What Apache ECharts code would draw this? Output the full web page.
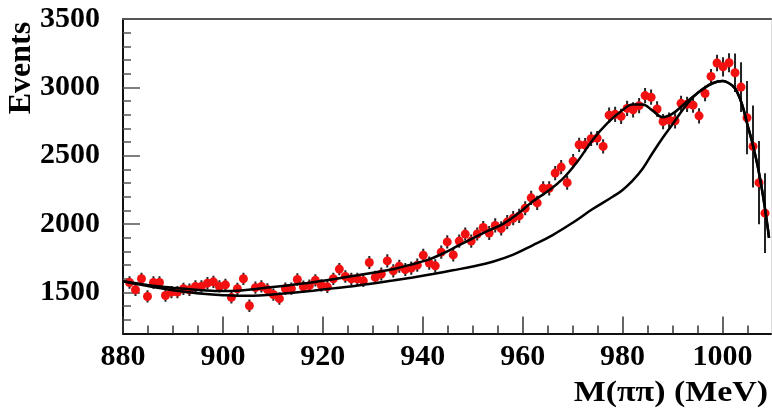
<!DOCTYPE html>
<html>
<head>
<meta charset="utf-8">
<script src="https://cdn.jsdelivr.net/npm/echarts@6/dist/echarts.min.js"></script>
<style>
html,body{margin:0;padding:0;background:#fff;}
#chart{width:772px;height:410px;}
</style>
</head>
<body>
<div id="chart"></div>
<script>
// ---- data ----
const mass = [881.3, 882.5, 883.7, 884.9, 886.1, 887.3, 888.5, 889.7, 890.9, 892.1,
  893.3, 894.5, 895.7, 896.9, 898.1, 899.3, 900.5, 901.7, 902.9, 904.1,
  905.3, 906.5, 907.7, 908.9, 910.1, 911.3, 912.5, 913.7, 914.9, 916.1,
  917.3, 918.5, 919.7, 920.9, 922.1, 923.3, 924.5, 925.7, 926.9, 928.1,
  929.3, 930.5, 931.7, 932.9, 934.1, 935.3, 936.5, 937.7, 938.9, 940.1,
  941.3, 942.5, 943.7, 944.9, 946.1, 947.3, 948.5, 949.7, 950.9, 952.1,
  953.3, 954.5, 955.7, 956.9, 958.1, 959.3, 960.5, 961.7, 962.9, 964.1,
  965.3, 966.5, 967.7, 968.9, 970.1, 971.3, 972.5, 973.7, 974.9, 976.1,
  977.3, 978.5, 979.7, 980.9, 982.1, 983.3, 984.5, 985.7, 986.9, 988.1,
  989.3, 990.5, 991.7, 992.9, 994.1, 995.3, 996.5, 997.7, 998.9, 1000.1,
  1001.3, 1002.5, 1003.7, 1004.9, 1006.1, 1007.3, 1008.5];
const events = [1573,1520,1600,1471,1573,1573,1478,1503,1503,1527,
  1520,1544,1544,1568,1578,1544,1556,1464,1527,1600,
  1403,1535,1544,1522,1485,1455,1528,1528,1595,1542,
  1550,1589,1552,1541,1600,1671,1617,1599,1599,1585,
  1719,1610,1635,1731,1658,1692,1668,1678,1700,1772,
  1715,1695,1795,1870,1775,1876,1927,1876,1928,1975,
  1935,1990,1968,2015,2043,2060,2116,2192,2155,2262,
  2262,2373,2417,2303,2460,2580,2578,2624,2629,2568,
  2797,2803,2788,2846,2836,2866,2940,2928,2842,2750,
  2761,2755,2883,2876,2870,2792,2955,3080,3178,3150,
  3180,3107,3002,2778,2568,2303,2080];
const errors = [45,45,45,45,45,45,45,45,45,45,
  45,45,45,45,45,45,45,45,45,45,
  45,45,45,45,45,45,45,45,45,45,
  45,45,45,45,45,45,45,45,45,45,
  48,48,48,48,48,48,48,48,48,48,
  48,48,48,48,48,48,48,48,48,48,
  52,52,52,52,52,52,52,52,52,52,
  52,52,52,52,52,52,52,52,52,52,
  56,56,56,56,56,56,56,56,56,56,
  56,56,56,56,56,56,56,55,60,70,
  70,140,182,268,300,304,292];

const fitMass = [880, 883, 886, 890, 893, 896, 900, 903, 907, 910, 914, 917, 920, 923, 927, 930, 934, 937, 941, 944,
  947, 950, 953, 956, 959, 962, 965, 968, 971, 974, 977, 980, 982, 984, 986, 988, 990, 992, 994, 996,
  998, 1000, 1002, 1003, 1004, 1005, 1006, 1007, 1008, 1009, 1009.3];
const fitTotal = [1582, 1565, 1550, 1535, 1525, 1516, 1510, 1512, 1528, 1540, 1556, 1570, 1585, 1603, 1626, 1645, 1670, 1698, 1738, 1785,
  1840, 1895, 1950, 2000, 2075, 2165, 2240, 2330, 2460, 2615, 2740, 2834, 2875, 2874, 2830, 2782, 2808, 2868, 2930, 2985,
  3030, 3047, 3012, 2960, 2865, 2725, 2590, 2430, 2230, 1985, 1900];

const bgMass = [880, 883, 886, 890, 893, 896, 900, 903, 906, 910, 914, 918, 922, 926, 930, 934, 938, 942, 946, 950,
  954, 958, 962, 966, 970, 974, 978, 980, 982, 984, 986, 988, 990, 992, 994, 996, 998, 1000, 1002, 1003,
  1004, 1005, 1006, 1007, 1008, 1009, 1009.3];
const bgValues = [1582, 1560, 1540, 1517, 1502, 1490, 1480, 1476, 1476, 1485, 1498, 1513, 1530, 1546, 1565, 1587, 1610, 1635, 1662, 1690,
  1725, 1775, 1845, 1920, 2010, 2110, 2200, 2250, 2318, 2405, 2520, 2630, 2730, 2835, 2925, 2988, 3030, 3047, 3012, 2960,
  2865, 2725, 2590, 2430, 2230, 1985, 1900];

const xMajorTicks = [880, 900, 920, 940, 960, 980, 1000];
const xMinorTicks = [885, 890, 895, 905, 910, 915, 925, 930, 935, 945, 950, 955, 965, 970, 975, 985, 990, 995, 1005];
const yMajorTicks = [1500, 2000, 2500, 3000, 3500];
const yMinorTicks = [1300, 1400, 1600, 1700, 1800, 1900, 2100, 2200, 2300, 2400, 2600, 2700, 2800, 2900, 3100, 3200, 3300, 3400];
const xTitle = 'M(ππ) (MeV)';
const yTitle = 'Events';

// ---- chart ----
const X_MIN = 880, X_MAX = 1009.7, Y_MIN = 1200, Y_MAX = 3500;
const SERIF = '"Liberation Serif", "Times New Roman", serif';
const labelFont = {fontFamily: SERIF, fontWeight: 'bold', fontSize: 30, color: '#000',
                   formatter: function (v) { return String(Math.round(v)); }};

const points = mass.map((m, i) => [m, events[i]]);
const errData = mass.map((m, i) => [m, events[i] - errors[i], events[i] + errors[i]]);

const chart = echarts.init(document.getElementById('chart'), null, {renderer: 'canvas'});
chart.setOption({
  animation: false,
  backgroundColor: '#fff',
  grid: {left: 123, top: 19, width: 648, height: 314.5, containLabel: false},
  xAxis: [
    {type: 'value', min: X_MIN, max: X_MAX, position: 'bottom',
     axisLine: {show: true, onZero: false, lineStyle: {color: '#111', width: 2}},
     axisTick: {show: true, inside: true, length: 17, customValues: xMajorTicks, lineStyle: {color: '#333', width: 1.5}},
     axisLabel: {show: true, customValues: xMajorTicks, margin: 9, ...labelFont},
     splitLine: {show: false}},
    {type: 'value', min: X_MIN, max: X_MAX, position: 'bottom',
     axisLine: {show: false},
     axisTick: {show: true, inside: true, length: 8, customValues: xMinorTicks, lineStyle: {color: '#333', width: 1.5}},
     axisLabel: {show: false}, splitLine: {show: false}},
    {type: 'value', min: X_MIN, max: X_MAX, position: 'top',
     axisLine: {show: true, onZero: false, lineStyle: {color: '#555', width: 2}},
     axisTick: {show: false}, axisLabel: {show: false}, splitLine: {show: false}}
  ],
  yAxis: [
    {type: 'value', min: Y_MIN, max: Y_MAX, position: 'left',
     axisLine: {show: true, onZero: false, lineStyle: {color: '#111', width: 2}},
     axisTick: {show: true, inside: true, length: 17, customValues: yMajorTicks, lineStyle: {color: '#555', width: 1.5}},
     axisLabel: {show: true, customValues: yMajorTicks, margin: 23, ...labelFont},
     splitLine: {show: false}},
    {type: 'value', min: Y_MIN, max: Y_MAX, position: 'left',
     axisLine: {show: false},
     axisTick: {show: true, inside: true, length: 8, customValues: yMinorTicks, lineStyle: {color: '#555', width: 1.5}},
     axisLabel: {show: false}, splitLine: {show: false}},
    {type: 'value', min: Y_MIN, max: Y_MAX, position: 'right',
     axisLine: {show: true, onZero: false, lineStyle: {color: '#ddd', width: 1}},
     axisTick: {show: false}, axisLabel: {show: false}, splitLine: {show: false}}
  ],
  graphic: [
    {type: 'text', x: 22, y: 68, rotation: Math.PI / 2,
     style: {text: yTitle, align: 'center', verticalAlign: 'middle', fill: '#000',
             font: 'bold 32px ' + SERIF}},
    {type: 'text', x: 768, y: 393, scaleX: 1.13,
     style: {text: xTitle, align: 'right', verticalAlign: 'middle', fill: '#000',
             font: 'bold 30px ' + SERIF}}
  ],
  series: [
    {type: 'custom', name: 'errors', xAxisIndex: 0, yAxisIndex: 0, z: 2, clip: true,
     data: errData,
     renderItem: function (params, api) {
       const p1 = api.coord([api.value(0), api.value(1)]);
       const p2 = api.coord([api.value(0), api.value(2)]);
       return {type: 'line', shape: {x1: p1[0], y1: p1[1], x2: p2[0], y2: p2[1]},
               style: {stroke: '#222', lineWidth: 2}};
     },
     encode: {x: 0, y: [1, 2]}},
    {type: 'scatter', name: 'data', xAxisIndex: 0, yAxisIndex: 0, z: 3,
     symbol: 'circle', symbolSize: 9, data: points,
     itemStyle: {color: '#f21010', opacity: 1}},
    {type: 'line', name: 'background', xAxisIndex: 0, yAxisIndex: 0, z: 4,
     data: bgMass.map((m, i) => [m, bgValues[i]]), smooth: 0.4, showSymbol: false, clip: true,
     lineStyle: {color: '#000', width: 2.5}},
    {type: 'line', name: 'total', xAxisIndex: 0, yAxisIndex: 0, z: 5,
     data: fitMass.map((m, i) => [m, fitTotal[i]]), smooth: 0.4, showSymbol: false, clip: true,
     lineStyle: {color: '#000', width: 2.5}}
  ]
});
</script>
</body>
</html>
